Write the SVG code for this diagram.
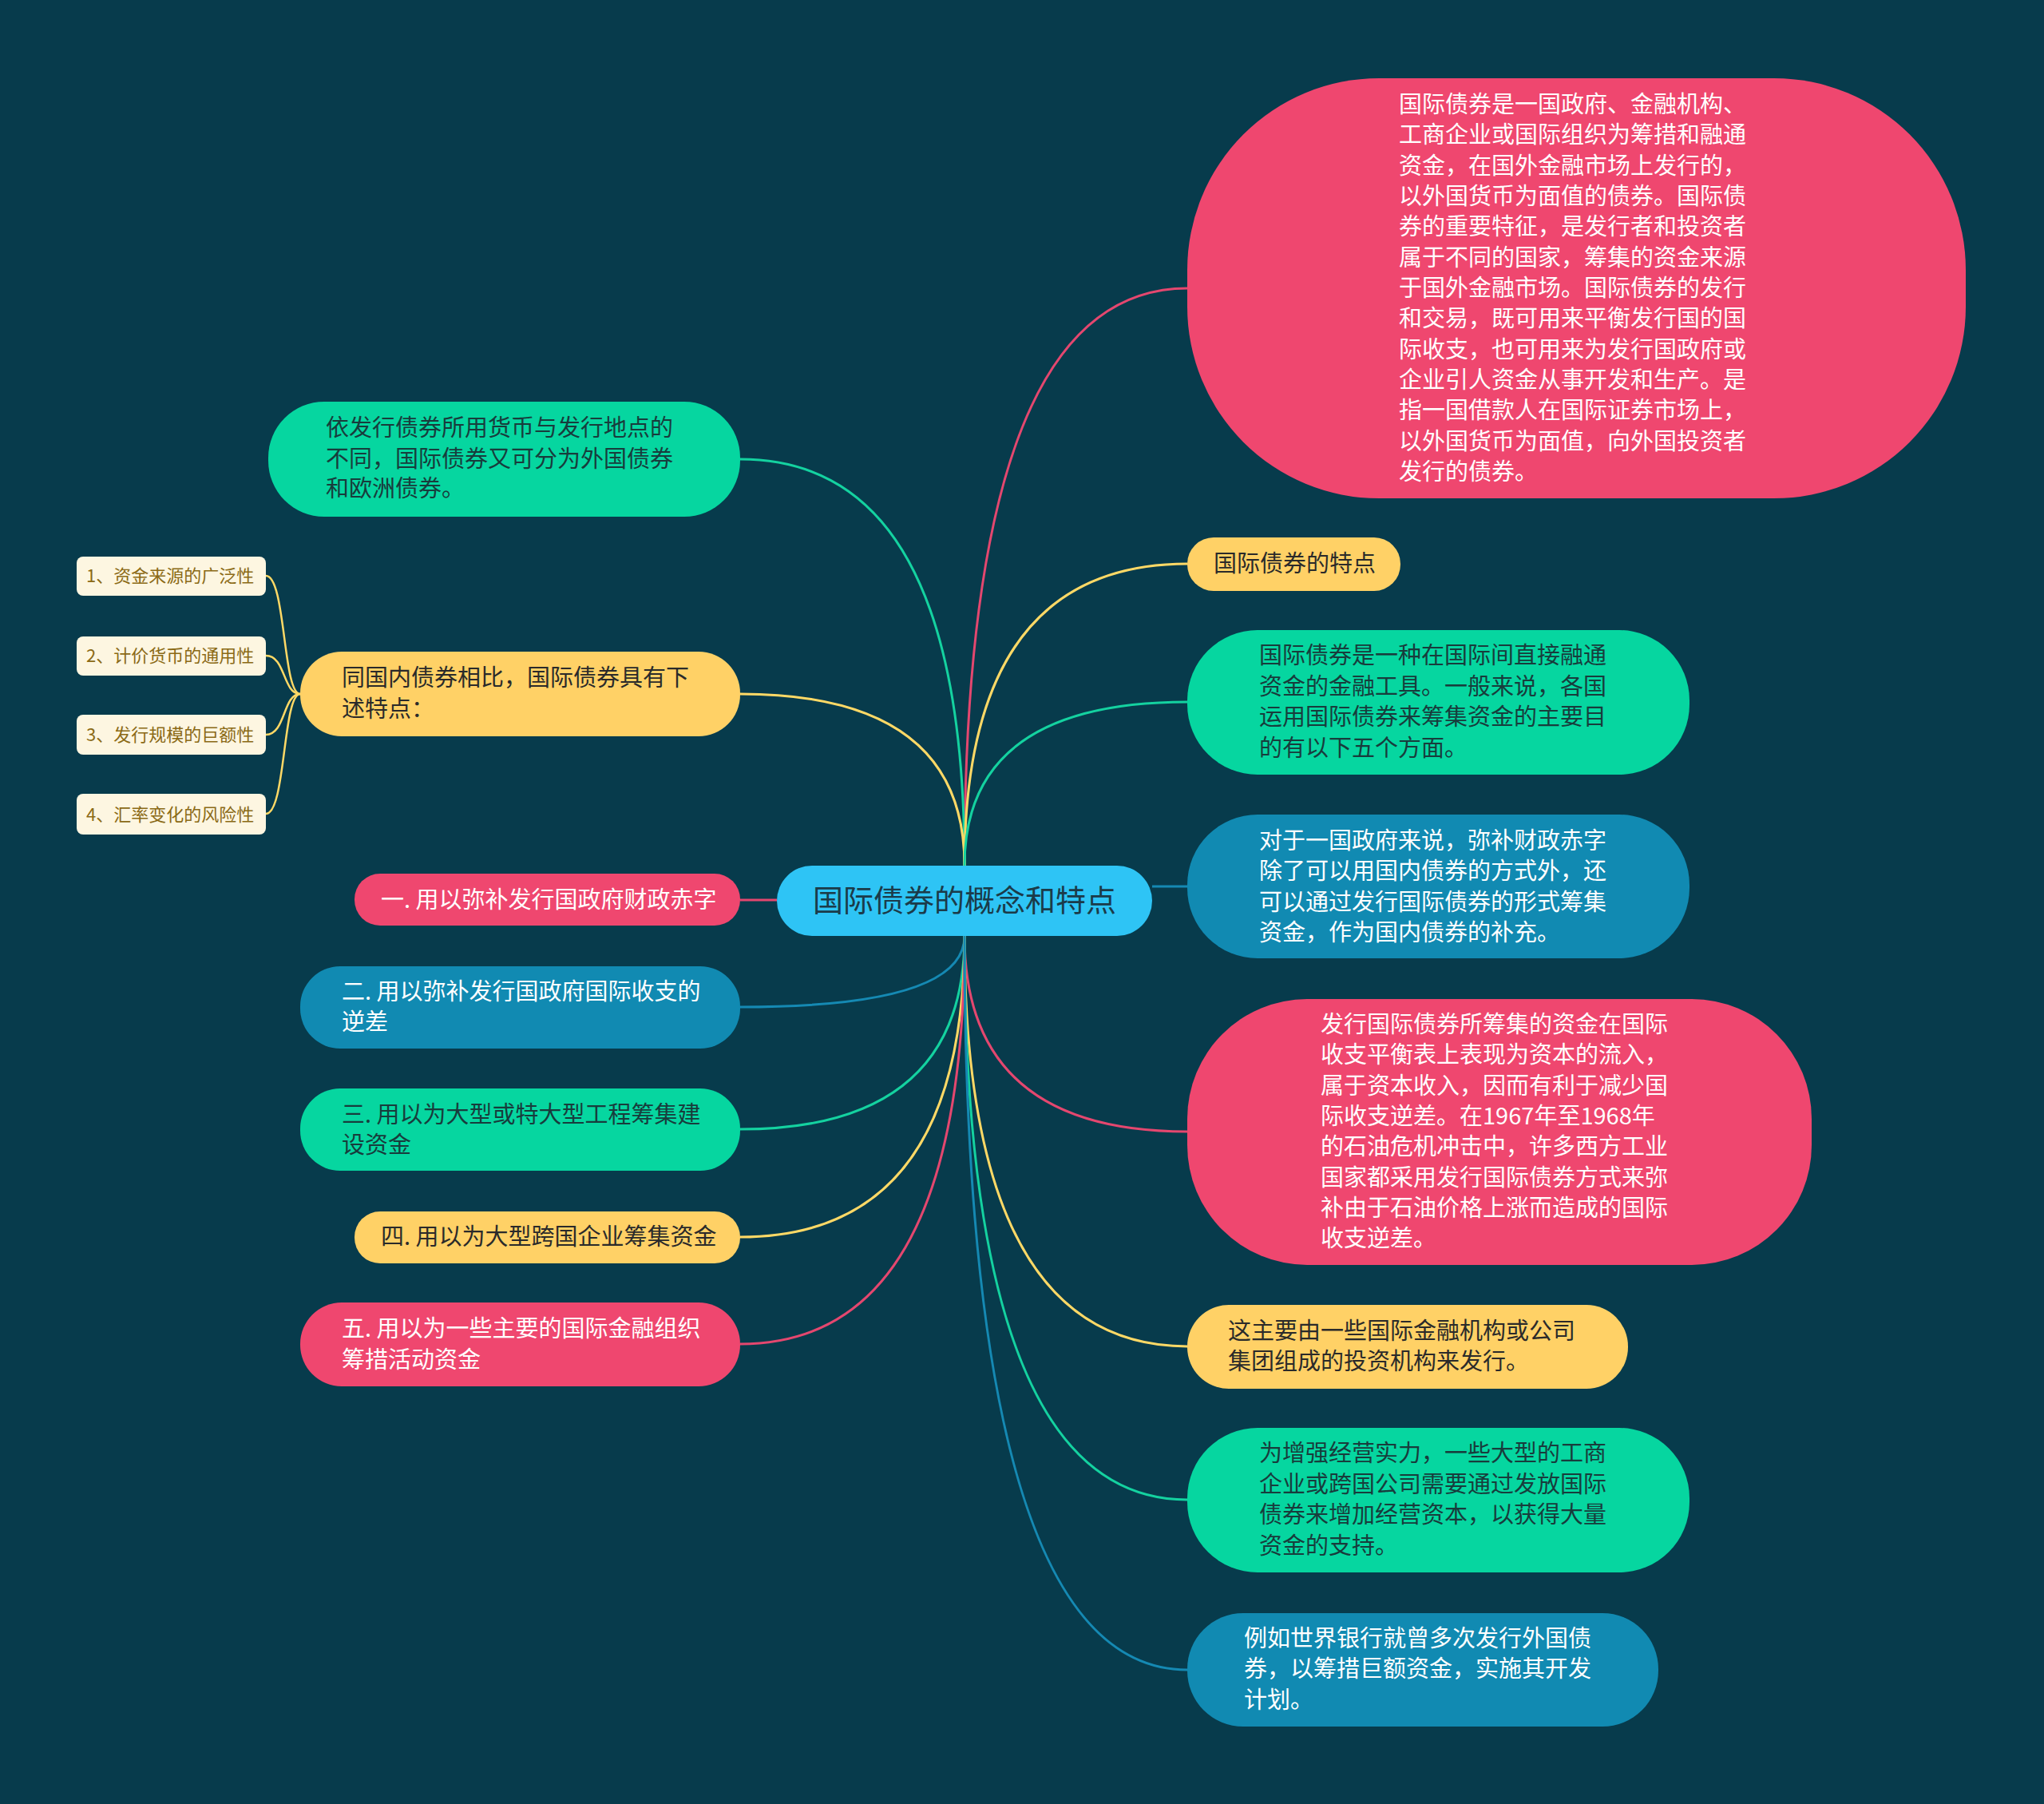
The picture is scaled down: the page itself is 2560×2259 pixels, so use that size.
<svg xmlns="http://www.w3.org/2000/svg" width="2560" height="2259" viewBox="0 0 2560 2259">
<style>
text{font-family:"Noto Sans CJK SC","Noto Sans",sans-serif;font-size:29px}
.w{fill:#ffffff}
.d{fill:#2a2a2a}
.g{fill:#183c3c}
.c{fill:#1b3b49;font-size:38px}
.s{fill:#8b6a16;font-size:22px}
.pink{fill:#ef476f}
.yel{fill:#ffd166}
.grn{fill:#06d6a0}
.blu{fill:#118ab2}
.cre{fill:#fdf6e1}
.ln{fill:none;stroke-width:3}
.lp{stroke:#e4476f}
.ly{stroke:#ffd966}
.lg{stroke:#14d2a0}
.lb{stroke:#1589b3}
</style>
<rect x="0" y="0" width="2560" height="2259" fill="#073b4c"/>
<g id="connectors">
<path class="ln lp" d="M1208,1084 Q1208,361 1487,361"/>
<path class="ln lg" d="M1208,1084 Q1208,575 927,575"/>
<path class="ln ly" d="M1208,1084 Q1208,706 1487,706"/>
<path class="ln ly" d="M1208,1084 Q1208,869 927,869"/>
<path class="ln lg" d="M1208,1084 Q1208,879 1487,879"/>
<path class="ln lb" d="M1208,1172 Q1208,1261 927,1261"/>
<path class="ln lg" d="M1208,1172 Q1208,1414 927,1414"/>
<path class="ln ly" d="M1208,1172 Q1208,1549 927,1549"/>
<path class="ln lp" d="M1208,1172 Q1208,1683 927,1683"/>
<path class="ln lp" d="M1208,1172 Q1208,1417 1487,1417"/>
<path class="ln ly" d="M1208,1172 Q1208,1686 1487,1686"/>
<path class="ln lg" d="M1208,1172 Q1208,1878 1487,1878"/>
<path class="ln lb" d="M1208,1172 Q1208,2091 1487,2091"/>
<path class="ln lp" d="M973,1127 L927,1127"/>
<path class="ln lb" d="M1443,1110 L1487,1110"/>
<path class="ln ly" style="stroke-width:2.5" d="M333,721 C358,721 354,869 376,869"/>
<path class="ln ly" style="stroke-width:2.5" d="M333,821 C358,821 354,869 376,869"/>
<path class="ln ly" style="stroke-width:2.5" d="M333,920 C358,920 354,869 376,869"/>
<path class="ln ly" style="stroke-width:2.5" d="M333,1019 C358,1019 354,869 376,869"/>
</g>
<g id="center">
<rect x="973" y="1084" width="470" height="88" rx="44" fill="#2ec4f5"/>
<text class="c" x="1208" y="1141" text-anchor="middle">国际债券的概念和特点</text>
</g>
<g id="r1">
<rect class="pink" x="1487" y="98" width="975" height="526" rx="240" ry="240"/>
<text class="w" x="1752" y="141">国际债券是一国政府、金融机构、</text>
<text class="w" x="1752" y="179">工商企业或国际组织为筹措和融通</text>
<text class="w" x="1752" y="218">资金，在国外金融市场上发行的，</text>
<text class="w" x="1752" y="256">以外国货币为面值的债券。国际债</text>
<text class="w" x="1752" y="294">券的重要特征，是发行者和投资者</text>
<text class="w" x="1752" y="333">属于不同的国家，筹集的资金来源</text>
<text class="w" x="1752" y="371">于国外金融市场。国际债券的发行</text>
<text class="w" x="1752" y="409">和交易，既可用来平衡发行国的国</text>
<text class="w" x="1752" y="448">际收支，也可用来为发行国政府或</text>
<text class="w" x="1752" y="486">企业引人资金从事开发和生产。是</text>
<text class="w" x="1752" y="524">指一国借款人在国际证券市场上，</text>
<text class="w" x="1752" y="563">以外国货币为面值，向外国投资者</text>
<text class="w" x="1752" y="601">发行的债券。</text>
</g>
<g id="r2">
<rect class="yel" x="1487" y="673" width="267" height="67" rx="33"/>
<text class="d" x="1520" y="716">国际债券的特点</text>
</g>
<g id="r3">
<rect class="grn" x="1487" y="789" width="629" height="181" rx="88"/>
<text class="g" x="1577" y="831">国际债券是一种在国际间直接融通</text>
<text class="g" x="1577" y="870">资金的金融工具。一般来说，各国</text>
<text class="g" x="1577" y="908">运用国际债券来筹集资金的主要目</text>
<text class="g" x="1577" y="947">的有以下五个方面。</text>
</g>
<g id="r4">
<rect class="blu" x="1487" y="1020" width="629" height="180" rx="88"/>
<text class="w" x="1577" y="1063">对于一国政府来说，弥补财政赤字</text>
<text class="w" x="1577" y="1101">除了可以用国内债券的方式外，还</text>
<text class="w" x="1577" y="1140">可以通过发行国际债券的形式筹集</text>
<text class="w" x="1577" y="1178">资金，作为国内债券的补充。</text>
</g>
<g id="r5">
<rect class="pink" x="1487" y="1251" width="782" height="333" rx="150" ry="150"/>
<text class="w" x="1654" y="1293">发行国际债券所筹集的资金在国际</text>
<text class="w" x="1654" y="1331">收支平衡表上表现为资本的流入，</text>
<text class="w" x="1654" y="1370">属于资本收入，因而有利于减少国</text>
<text class="w" x="1654" y="1408">际收支逆差。在1967年至1968年</text>
<text class="w" x="1654" y="1446">的石油危机冲击中，许多西方工业</text>
<text class="w" x="1654" y="1485">国家都采用发行国际债券方式来弥</text>
<text class="w" x="1654" y="1523">补由于石油价格上涨而造成的国际</text>
<text class="w" x="1654" y="1561">收支逆差。</text>
</g>
<g id="r6">
<rect class="yel" x="1487" y="1634" width="552" height="105" rx="52"/>
<text class="d" x="1538" y="1677">这主要由一些国际金融机构或公司</text>
<text class="d" x="1538" y="1715">集团组成的投资机构来发行。</text>
</g>
<g id="r7">
<rect class="grn" x="1487" y="1788" width="629" height="181" rx="88"/>
<text class="g" x="1577" y="1830">为增强经营实力，一些大型的工商</text>
<text class="g" x="1577" y="1869">企业或跨国公司需要通过发放国际</text>
<text class="g" x="1577" y="1907">债券来增加经营资本，以获得大量</text>
<text class="g" x="1577" y="1946">资金的支持。</text>
</g>
<g id="r8">
<rect class="blu" x="1487" y="2020" width="590" height="142" rx="70"/>
<text class="w" x="1558" y="2062">例如世界银行就曾多次发行外国债</text>
<text class="w" x="1558" y="2100">券，以筹措巨额资金，实施其开发</text>
<text class="w" x="1558" y="2139">计划。</text>
</g>
<g id="l1">
<rect class="grn" x="336" y="503" width="591" height="144" rx="70"/>
<text class="g" x="408" y="546">依发行债券所用货币与发行地点的</text>
<text class="g" x="408" y="585">不同，国际债券又可分为外国债券</text>
<text class="g" x="408" y="622">和欧洲债券。</text>
</g>
<g id="l2">
<rect class="yel" x="376" y="816" width="551" height="106" rx="52"/>
<text class="d" x="428" y="859">同国内债券相比，国际债券具有下</text>
<text class="d" x="428" y="898">述特点：</text>
</g>
<g id="s1">
<rect class="cre" x="96" y="697" width="237" height="49" rx="8"/>
<text class="s" x="108" y="729">1、资金来源的广泛性</text>
</g>
<g id="s2">
<rect class="cre" x="96" y="797" width="237" height="49" rx="8"/>
<text class="s" x="108" y="829">2、计价货币的通用性</text>
</g>
<g id="s3">
<rect class="cre" x="96" y="895" width="237" height="50" rx="8"/>
<text class="s" x="108" y="928">3、发行规模的巨额性</text>
</g>
<g id="s4">
<rect class="cre" x="96" y="994" width="237" height="51" rx="8"/>
<text class="s" x="108" y="1028">4、汇率变化的风险性</text>
</g>
<g id="l3">
<rect class="pink" x="444" y="1094" width="483" height="65" rx="32"/>
<text class="w" x="477" y="1137">一. 用以弥补发行国政府财政赤字</text>
</g>
<g id="l4">
<rect class="blu" x="376" y="1210" width="551" height="103" rx="50"/>
<text class="w" x="428" y="1252">二. 用以弥补发行国政府国际收支的</text>
<text class="w" x="428" y="1290">逆差</text>
</g>
<g id="l5">
<rect class="grn" x="376" y="1363" width="551" height="103" rx="50"/>
<text class="g" x="428" y="1406">三. 用以为大型或特大型工程筹集建</text>
<text class="g" x="428" y="1444">设资金</text>
</g>
<g id="l6">
<rect class="yel" x="444" y="1517" width="483" height="65" rx="32"/>
<text class="d" x="477" y="1559">四. 用以为大型跨国企业筹集资金</text>
</g>
<g id="l7">
<rect class="pink" x="376" y="1631" width="551" height="105" rx="52"/>
<text class="w" x="428" y="1674">五. 用以为一些主要的国际金融组织</text>
<text class="w" x="428" y="1713">筹措活动资金</text>
</g>
</svg>
